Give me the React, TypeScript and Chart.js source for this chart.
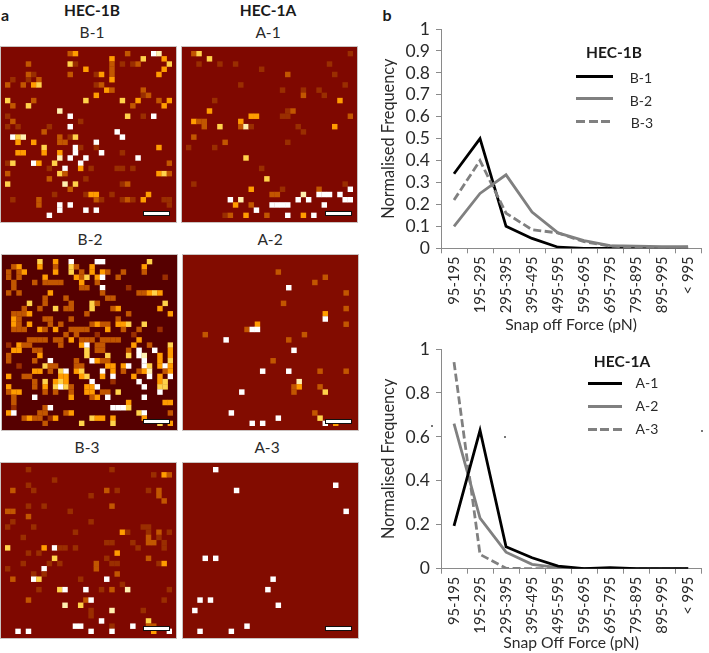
import React, { useEffect, useRef } from "react";
import { Chart, registerables } from "chart.js";

Chart.register(...registerables);

const FONT = "Lato, 'Open Sans', sans-serif";
const GRID = 32;

const forceBins = ["95-195", "195-295", "295-395", "395-495", "495-595", "595-695", "695-795", "795-895", "895-995", "< 995"];

const b1Series = [0.34, 0.5, 0.1, 0.045, 0.005, 0, 0, 0, 0, 0];
const b2Series = [0.1, 0.25, 0.335, 0.165, 0.07, 0.035, 0.012, 0.01, 0.008, 0.008];
const b3Series = [0.22, 0.4, 0.16, 0.085, 0.07, 0.03, 0.01, 0.005, 0, 0.005];

const a1Series = [0.195, 0.63, 0.1, 0.05, 0.012, 0, 0.005, 0, 0, 0];
const a2Series = [0.66, 0.23, 0.075, 0.02, 0.005, 0, 0, 0, 0, 0];
const a3Series = [0.94, 0.065, 0.002, 0, 0, 0, 0, 0, 0, 0];

const levelColors = ["", "#9a2e00", "#c25600", "#ff9c00", "#ffd24a", "#fff0b0", "#ffffff"];

// [column, row, level]
const b1Cells = [
  [12,0,2],[13,0,3],[23,0,2],[28,0,6],[29,0,5],
  [20,1,3],[26,1,4],[30,1,3],
  [4,2,2],[12,2,4],[13,2,1],[20,2,2],[22,2,1],[24,2,1],[25,2,2],[31,2,4],
  [15,3,3],[20,3,2],[30,3,3],
  [4,4,2],[5,4,1],[12,4,2],[17,4,1],[18,4,3],[20,4,2],[29,4,3],
  [1,5,1],[4,5,1],[6,5,2],[20,5,3],
  [0,6,2],[3,6,2],[5,6,3],[6,6,4],[17,6,1],[18,6,2],
  [19,7,3],[20,7,2],[26,7,2],
  [17,8,3],[26,8,1],[27,8,2],
  [0,9,4],[5,9,2],[15,9,4],[22,9,4],[25,9,3],[29,9,2],[31,9,3],
  [1,10,2],[4,10,4],[24,10,2],[30,10,3],
  [10,11,5],
  [0,12,1],[12,12,6],[23,12,4],[26,12,1],[28,12,6],
  [1,13,2],[14,13,1],
  [0,14,1],[2,14,1],[8,14,1],[12,14,6],
  [7,15,2],[21,15,6],
  [1,16,6],[2,16,4],[3,16,5],[10,16,2],[12,16,1],[13,16,4],[22,16,6],
  [2,17,3],[5,17,3],[10,17,2],[11,17,2],[17,17,6],
  [7,18,4],[13,18,6],[14,18,1],[17,18,1],[29,18,3],
  [2,19,3],[3,19,3],[7,19,3],[10,19,3],[13,19,6],[18,19,6],[22,19,1],
  [10,20,5],[12,20,6],[15,20,6],[25,20,6],
  [0,21,1],[1,21,4],[5,21,6],[6,21,3],[9,21,4],[14,21,6],[31,21,2],
  [8,22,1],[11,22,6],[14,22,3],[16,22,1],[21,22,1],[22,22,1],[24,22,1],
  [0,23,2],[10,23,4],[11,23,2],[29,23,3],[30,23,4],[31,23,2],
  [8,24,2],[15,24,1],
  [0,25,4],[11,25,5],[13,25,4],[22,25,1],[23,25,2],
  [12,26,2],
  [9,27,1],[15,27,1],[16,27,3],[17,27,3],[20,27,1],[27,27,3],
  [1,28,1],[6,28,2],[17,28,2],[18,28,1],[22,28,1],[23,28,2],[24,28,1],[26,28,3],[30,28,1],[31,28,1],
  [6,29,2],[10,29,6],[12,29,6],[31,29,1],
  [10,30,6],[15,30,6],[17,30,6],
  [8,31,6],
];

const a1Cells = [
  [1,0,2],[2,0,4],[31,0,1],
  [4,1,4],
  [2,2,1],[6,2,1],[9,2,1],[27,2,1],
  [14,3,1],
  [19,4,2],[28,4,1],
  [10,6,1],[30,6,1],
  [18,7,1],[22,7,1],[25,7,1],
  [22,8,2],[26,8,1],
  [5,9,1],[29,9,3],
  [4,11,3],[19,11,1],[20,11,2],
  [12,12,3],[13,12,3],[18,12,1],[19,12,1],[31,12,2],
  [1,13,3],[2,13,2],[3,13,2],[10,13,3],
  [3,14,2],[6,14,4],[10,14,2],[11,14,5],[12,14,1],[21,14,1],[28,14,3],
  [22,15,1],
  [1,16,2],
  [7,17,2],[19,17,1],
  [0,18,1],[5,18,1],
  [11,20,4],
  [14,22,1],
  [15,24,4],
  [1,25,1],[30,25,1],
  [12,26,3],[18,26,1],[25,26,2],[31,26,6],
  [16,27,2],[17,27,2],[22,27,5],[25,27,6],[26,27,6],[27,27,6],[29,27,6],
  [8,28,6],[10,28,5],[21,28,6],[23,28,6],[30,28,6],[31,28,6],
  [9,29,3],[12,29,2],[16,29,6],[17,29,6],[18,29,6],[19,29,6],[26,29,6],
  [13,30,6],
  [7,31,1],[8,31,2],[11,31,3],[15,31,2],[19,31,6],[22,31,3],[24,31,6],
];

const b2Cells = [
  [6,0,4],[9,0,3],[12,0,6],[17,0,6],[18,0,6],[27,0,4],
  [1,1,2],[2,1,3],[6,1,3],[9,1,2],[12,1,4],[13,1,2],[16,1,3],[26,1,3],
  [0,2,2],[2,2,2],[3,2,3],[9,2,3],[12,2,4],[14,2,2],[16,2,3],[18,2,3],[19,2,2],[22,2,2],[26,2,2],
  [0,3,2],[2,3,2],[7,3,3],[13,3,3],[14,3,2],[15,3,4],[17,3,3],[18,3,6],[21,3,2],[30,3,1],
  [1,4,2],[5,4,2],[7,4,2],[8,4,2],[9,4,2],[10,4,2],[14,4,3],[17,4,2],
  [1,5,2],[14,5,2],[15,5,2],[18,5,6],[23,5,1],
  [0,6,2],[2,6,2],[8,6,3],[18,6,2],[25,6,2],[26,6,2],[27,6,3],[28,6,4],[29,6,3],
  [7,7,2],[11,7,2],[19,7,2],[20,7,2],
  [4,8,4],[7,8,2],[12,8,2],[16,8,4],[17,8,2],[30,8,4],
  [3,9,2],[6,9,2],[9,9,4],[11,9,2],[12,9,2],[16,9,4],[20,9,2],[21,9,3],[29,9,3],
  [1,10,2],[2,10,2],[3,10,2],[4,10,3],[15,10,2],[23,10,2],[31,10,3],
  [1,11,3],[2,11,2],[7,11,2],[8,11,2],[12,11,2],[21,11,2],
  [1,12,3],[2,12,2],[4,12,3],[8,12,2],[10,12,2],[16,12,2],[17,12,3],[18,12,2],[19,12,2],[21,12,3],[22,12,3],[23,12,4],[26,12,4],
  [1,13,2],[2,13,2],[3,13,2],[6,13,3],[7,13,2],[9,13,3],[12,13,2],[13,13,2],[14,13,2],[15,13,2],[19,13,3],[22,13,2],[25,13,2],[29,13,1],
  [11,14,2],[13,14,2],[17,14,1],[24,14,1],
  [4,15,2],[5,15,2],[6,15,2],[7,15,2],[9,15,2],[10,15,2],[12,15,3],[14,15,2],[15,15,2],[16,15,2],[18,15,2],[19,15,2],[20,15,2],[21,15,2],[25,15,3],
  [0,16,1],[2,16,3],[3,16,2],[4,16,2],[10,16,2],[14,16,3],[15,16,6],[17,16,2],[18,16,2],[24,16,3],[27,16,2],[31,16,4],
  [1,17,3],[2,17,3],[5,17,2],[6,17,2],[15,17,4],[17,17,2],[18,17,2],[23,17,2],[25,17,6],[28,17,6],[31,17,3],
  [0,18,2],[6,18,3],[15,18,4],[19,18,4],[23,18,4],[25,18,6],[26,18,5],[29,18,3],[31,18,3],
  [0,19,2],[5,19,2],[8,19,6],[13,19,2],[16,19,6],[17,19,3],[18,19,2],[19,19,2],[26,19,6],[29,19,3],[31,19,4],
  [2,20,1],[7,20,4],[8,20,2],[9,20,2],[13,20,2],[14,20,2],[19,20,3],[20,20,3],[22,20,3],[23,20,6],[26,20,6],[27,20,4],[29,20,3],[30,20,6],[31,20,3],
  [5,21,3],[6,21,3],[8,21,2],[10,21,4],[11,21,6],[13,21,3],[14,21,4],[18,21,6],[20,21,3],[22,21,2],[25,21,2],[26,21,3],[27,21,5],[30,21,2],[31,21,3],
  [0,22,3],[3,22,2],[4,22,2],[10,22,3],[11,22,3],[14,22,3],[15,22,4],[18,22,3],[20,22,6],[24,22,3],[27,22,6],[29,22,3],[31,22,6],
  [5,23,2],[7,23,4],[9,23,3],[10,23,4],[11,23,3],[16,23,6],[20,23,1],[25,23,6],[29,23,3],[30,23,4],
  [0,24,3],[5,24,2],[7,24,3],[9,24,4],[10,24,6],[11,24,4],[12,24,2],[15,24,3],[16,24,3],[17,24,6],[26,24,6],[29,24,4],[30,24,4],
  [0,25,2],[1,25,3],[2,25,3],[7,25,2],[9,25,2],[12,25,2],[15,25,3],[16,25,3],[18,25,2],[19,25,2],[21,25,4],[29,25,6],
  [1,26,2],[5,26,6],[12,26,3],[16,26,2],[17,26,3],[19,26,6],[26,26,6],
  [1,27,2],[23,27,3],[30,27,3],[31,27,3],
  [1,28,1],[7,28,2],[8,28,6],[20,28,6],[21,28,6],[22,28,6],[23,28,4],
  [0,29,3],[1,29,6],[6,29,2],[7,29,2],[11,29,2],[12,29,3],[25,29,4],[26,29,6],[31,29,2],
  [3,30,2],[4,30,3],[5,30,2],[6,30,2],[8,30,1],[9,30,3],[16,30,4],[17,30,3],[18,30,3],[20,30,3],[26,30,3],
  [7,31,2],[14,31,4],[20,31,4],[29,31,4],[31,31,3],
];

const a2Cells = [
  [17,2,2],[26,3,2],[24,4,2],[19,5,6],[30,6,2],[18,8,2],[30,9,2],[26,10,3],[26,11,6],
  [13,12,3],[30,12,2],[11,13,2],[12,13,6],[13,13,6],[3,14,2],[22,14,2],[7,15,6],[19,15,2],
  [20,17,6],[16,19,2],[14,21,6],[19,21,6],[25,21,2],[30,21,2],[21,23,5],
  [20,24,2],[21,24,3],[25,24,2],[10,25,6],[20,25,2],[26,25,4],[8,29,6],[24,29,2],
  [17,30,6],[25,30,4],[12,31,6],[14,31,6],[26,31,6],[28,31,3],
];

const b3Cells = [
  [4,0,1],[20,0,1],
  [28,1,1],[30,1,3],[31,1,2],
  [9,2,1],
  [4,3,1],
  [1,4,2],[5,4,1],[19,4,2],[21,4,1],[27,4,1],[29,4,2],
  [16,5,1],[29,5,2],
  [30,6,2],
  [4,7,1],[7,7,1],[20,7,2],
  [0,8,2],[1,8,2],[12,8,1],
  [4,9,2],
  [1,10,1],[16,10,1],
  [0,11,1],[5,11,1],[26,11,1],[27,11,1],
  [13,12,1],[22,12,3],[23,12,1],[27,12,1],[29,12,2],[31,12,1],
  [3,13,1],[27,13,2],[29,13,1],
  [19,14,1],[20,14,1],[24,14,1],[27,14,2],[28,14,2],[30,14,1],
  [0,15,4],[7,15,3],[9,15,6],[10,15,1],[11,15,1],[13,15,1],[25,15,1],[30,15,1],
  [4,16,1],[6,16,1],[21,16,3],
  [9,17,4],[19,17,1],[27,17,2],
  [3,18,1],[8,18,1],[10,18,1],[17,18,2],[20,18,1],[21,18,1],[29,18,1],[30,18,3],
  [0,19,1],[7,19,6],[17,19,2],
  [5,20,1],[7,20,1],[21,20,2],
  [1,21,2],[5,21,6],[6,21,4],[14,21,1],[19,21,6],
  [22,22,1],
  [6,23,1],[10,23,4],[11,23,6],[15,23,6],[18,23,1],[20,23,2],[23,23,5],[31,23,1],
  [4,25,2],[15,25,2],[16,25,6],[30,25,1],
  [11,26,5],[14,26,4],
  [16,27,1],[20,27,5],[26,27,1],
  [16,28,1],
  [18,29,6],[27,29,4],
  [13,30,6],[14,30,6],[20,30,1],[24,30,6],[27,30,2],[28,30,2],
  [2,31,6],[4,31,6],[16,31,6],[20,31,6],[28,31,3],[31,31,6],
];

const a3Cells = [
  [5,0,6],[9,4,6],[28,3,6],[30,8,6],[3,17,6],[5,17,6],[16,21,6],[15,23,6],
  [2,25,6],[4,25,6],[17,26,6],[1,27,6],[11,30,6],[2,31,6],[8,31,6],
];

function Heatmap({ cells, left, top, background, barLeft, barTop }: any) {
  const ref = useRef<HTMLCanvasElement>(null);
  useEffect(() => {
    const chart = new Chart(ref.current!, {
      type: "scatter",
      data: {
        datasets: [{
          data: cells.map(([c, r]: number[]) => ({ x: c + 0.5, y: r + 0.5 })),
          pointBackgroundColor: cells.map((p: number[]) => levelColors[p[2]]),
          pointBorderWidth: 0,
          pointStyle: "rect",
          pointRadius: 175 / GRID / Math.SQRT2,
        }],
      },
      options: {
        animation: false,
        responsive: false,
        layout: { padding: 0 },
        plugins: { legend: { display: false }, tooltip: { enabled: false } },
        scales: {
          x: { display: false, min: 0, max: GRID },
          y: { display: false, min: 0, max: GRID, reverse: true },
        },
      },
    } as any);
    return () => chart.destroy();
  }, []);
  return (
    <>
      <canvas ref={ref} width={175} height={175}
        style={{ position: "absolute", left, top, width: 175, height: 175, background, outline: "1px solid #c9c2c0" }} />
      <div style={{ position: "absolute", left: barLeft, top: barTop, width: 25, height: 3, background: "#fff", border: "1px solid #111" }} />
    </>
  );
}

function LineChart({ top, height, xHeight, rightPad, series, yStep, title, titlePad }: any) {
  const ref = useRef<HTMLCanvasElement>(null);
  useEffect(() => {
    const chart = new Chart(ref.current!, {
      type: "line",
      data: {
        labels: forceBins,
        datasets: series.map((s: any) => ({
          label: s.label,
          data: s.values,
          borderColor: s.color,
          borderWidth: 2.8,
          borderDash: s.dash ? [8, 3.5] : [],
          pointRadius: 0,
          tension: 0,
          fill: false,
          order: s.order,
        })),
      },
      options: {
        animation: false,
        responsive: false,
        layout: { padding: { top: 19, right: rightPad, left: 0, bottom: 0 } },
        plugins: { legend: { display: false }, tooltip: { enabled: false } },
        scales: {
          x: {
            type: "category",
            offset: true,
            afterFit: (s: any) => { s.height = xHeight; },
            grid: { drawOnChartArea: false, drawTicks: true, tickLength: 5, offset: true, color: "#8a8a8a" },
            border: { color: "#8a8a8a", width: 1 },
            ticks: { maxRotation: 90, minRotation: 90, autoSkip: false, padding: 3, color: "#2a2a2a", font: { family: FONT, size: 14.8 } },
            title: { display: true, text: title, color: "#2a2a2a", font: { family: FONT, size: 15.7 }, padding: titlePad },
          },
          y: {
            min: 0,
            max: 1,
            afterFit: (s: any) => { s.width = 71; },
            grid: { drawOnChartArea: false, drawTicks: true, tickLength: 5, color: "#8a8a8a" },
            border: { color: "#8a8a8a", width: 1 },
            ticks: {
              stepSize: yStep,
              autoSkip: false,
              padding: 6,
              color: "#2a2a2a",
              font: { family: FONT, size: 17.5 },
              callback: (v: any) => String(+Number(v).toFixed(1)),
            },
            title: { display: true, text: "Normalised Frequency", color: "#2a2a2a", font: { family: FONT, size: 16.3 }, padding: { top: 9, bottom: 0 } },
          },
        },
      },
    } as any);
    return () => chart.destroy();
  }, []);
  return <canvas ref={ref} width={339} height={height} style={{ position: "absolute", left: 370, top, width: 339, height }} />;
}

const textStyle = (cx: number, cy: number, size: number, bold = false): React.CSSProperties => ({
  position: "absolute",
  left: cx - 60,
  top: cy - 12,
  width: 120,
  height: 24,
  lineHeight: "24px",
  textAlign: "center",
  fontFamily: FONT,
  fontSize: size,
  fontWeight: bold ? 700 : 400,
  color: bold ? "#1a1a1a" : "#2a2a2a",
});

function Label({ text, x, y, size = 15.5, bold = false }: any) {
  return <div style={textStyle(x, y, size, bold)}>{text}</div>;
}

function LegendLine({ left, width, y, color, dash }: any) {
  return (
    <div style={{
      position: "absolute", left, top: y - 1.5, width, height: 3,
      background: dash ? `repeating-linear-gradient(90deg, ${color} 0 9px, transparent 9px 12.5px)` : color,
    }} />
  );
}

const specks = [[431, 425], [504, 436], [701, 430]];

export default function App() {
  return (
    <div style={{ position: "absolute", left: 0, top: 0, width: 709, height: 653, overflow: "hidden", background: "#fff" }}>
      <Label text="a" x={5} y={15} size={16} bold />
      <Label text="b" x={387} y={15} size={16} bold />
      <Label text="HEC-1B" x={92} y={9.5} size={15.5} bold />
      <Label text="HEC-1A" x={268} y={9.5} size={15.5} bold />
      <Label text="B-1" x={92} y={32} />
      <Label text="A-1" x={268} y={32} />
      <Label text="B-2" x={90} y={239} />
      <Label text="A-2" x={270} y={239} />
      <Label text="B-3" x={87} y={447} />
      <Label text="A-3" x={267} y={447} />

      <Heatmap cells={b1Cells} left={1} top={47} background="#7f0800" barLeft={143} barTop={211} />
      <Heatmap cells={a1Cells} left={182} top={47} background="#7f0800" barLeft={325} barTop={211} />
      <Heatmap cells={b2Cells} left={2} top={255} background="#560000" barLeft={143} barTop={419} />
      <Heatmap cells={a2Cells} left={183} top={255} background="#820c00" barLeft={325} barTop={419} />
      <Heatmap cells={b3Cells} left={1} top={463} background="#7f0800" barLeft={143} barTop={626} />
      <Heatmap cells={a3Cells} left={183} top={463} background="#820c00" barLeft={325} barTop={626} />

      <LineChart top={10} height={325} xHeight={86.7} rightPad={3.3} yStep={0.1} title="Snap off Force (pN)" titlePad={{ top: 0, bottom: 1 }}
        series={[
          { label: "B-1", values: b1Series, color: "#000000", order: 3 },
          { label: "B-2", values: b2Series, color: "#808080", order: 1 },
          { label: "B-3", values: b3Series, color: "#808080", dash: true, order: 2 },
        ]} />
      <LineChart top={330} height={323} xHeight={84.3} rightPad={1.3} yStep={0.2} title="Snap Off Force (pN)" titlePad={{ top: 0, bottom: 1 }}
        series={[
          { label: "A-1", values: a1Series, color: "#000000", order: 1 },
          { label: "A-2", values: a2Series, color: "#808080", order: 2 },
          { label: "A-3", values: a3Series, color: "#808080", dash: true, order: 3 },
        ]} />

      <Label text="HEC-1B" x={614} y={52} size={15.5} bold />
      <LegendLine left={576} width={37} y={76} color="#000" />
      <LegendLine left={576} width={37} y={98} color="#808080" />
      <LegendLine left={576} width={34} y={121} color="#808080" dash />
      <Label text="B-1" x={641} y={78} size={14} />
      <Label text="B-2" x={641} y={100.5} size={14} />
      <Label text="B-3" x={642} y={123} size={14} />

      <Label text="HEC-1A" x={622} y={360.5} size={15.5} bold />
      <LegendLine left={588} width={34} y={383.5} color="#000" />
      <LegendLine left={588} width={34} y={406.5} color="#808080" />
      <LegendLine left={588} width={34} y={429} color="#808080" dash />
      <Label text="A-1" x={647} y={382.5} size={14} />
      <Label text="A-2" x={647} y={405.5} size={14} />
      <Label text="A-3" x={647} y={429} size={14} />

      {specks.map(([x, y], i) => (
        <div key={i} style={{ position: "absolute", left: x, top: y, width: 1.5, height: 1.5, background: "#777" }} />
      ))}
    </div>
  );
}
